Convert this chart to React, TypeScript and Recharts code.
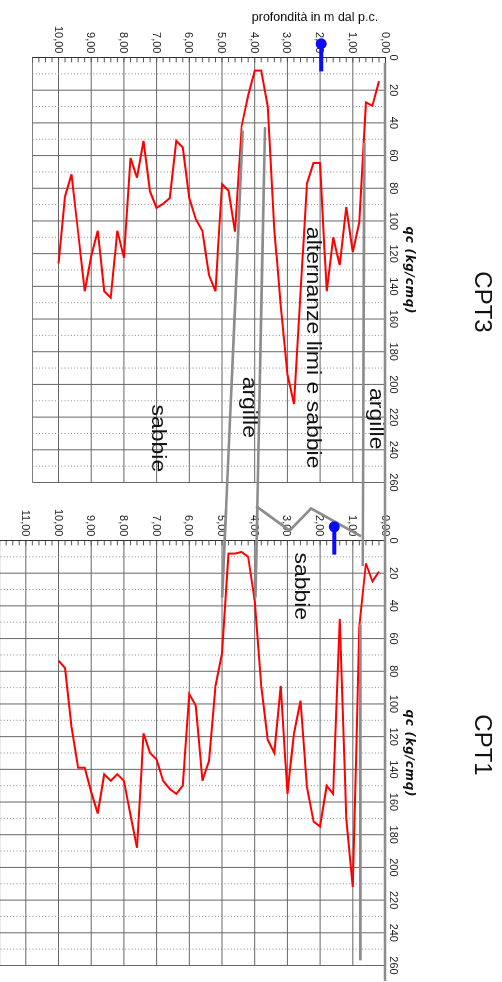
import { ScatterChart, Scatter, XAxis, YAxis, CartesianGrid, ReferenceLine } from 'recharts';

const FONT = '"Liberation Sans", Arial, sans-serif';

// sampling depths (m dal p.c.), both soundings
const DEPTHS = [
  0.2, 0.4, 0.6, 0.8, 1.0, 1.2, 1.4, 1.6, 1.8, 2.0,
  2.2, 2.4, 2.6, 2.8, 3.0, 3.2, 3.4, 3.6, 3.8, 4.0,
  4.2, 4.4, 4.6, 4.8, 5.0, 5.2, 5.4, 5.6, 5.8, 6.0,
  6.2, 6.4, 6.6, 6.8, 7.0, 7.2, 7.4, 7.6, 7.8, 8.0,
  8.2, 8.4, 8.6, 8.8, 9.0, 9.2, 9.4, 9.6, 9.8, 10.0,
];

// qc (kg/cmq)
const CPT3_QC = [
  14.5, 29.5, 27.5, 101, 119, 91.5, 127, 110, 143, 64.5,
  64.5, 77, 144, 212, 194, 152, 105, 30, 8, 8,
  23, 42, 106.5, 81.5, 77.5, 143, 133, 106, 99, 86,
  55, 51, 86, 89.5, 92, 82, 51, 73.5, 61.5, 122.5,
  106, 147, 143, 106, 121.5, 143, 107, 71.5, 85, 126,
];

const CPT1_QC = [
  19, 25, 14, 53, 212, 170, 48, 155, 150, 175,
  172, 151, 98, 118, 155, 89, 130, 122, 89, 37,
  10, 7, 8, 8, 69, 89, 135, 147, 101, 94,
  150, 155, 152, 147, 134, 130, 118, 188, 168, 147,
  143, 147, 143, 167, 154, 139, 139, 114, 78, 73.5,
];

const QC_TICKS = [0, 20, 40, 60, 80, 100, 120, 140, 160, 180, 200, 220, 240, 260];
const QC_HALF = [10, 30, 50, 70, 90, 110, 130, 150, 170, 190, 210, 230, 250];
const CPT3_DEPTH_TICKS = [0, 1, 2, 3, 4, 5, 6, 7, 8, 9, 10];
const CPT1_DEPTH_TICKS = [0, 1, 2, 3, 4, 5, 6, 7, 8, 9, 10, 11];

const CPT3_LAYERS = [
  { name: 'argille', qc: 221, depth: 0.46 },
  { name: 'alternanze limi e sabbie', qc: 177.5, depth: 2.4 },
  { name: 'argille', qc: 214, depth: 4.35 },
  { name: 'sabbie', qc: 233, depth: 7.15 },
];
const CPT1_LAYERS = [{ name: 'sabbie', qc: 28, depth: 2.77 }];

// correlation lines, x = qc on CPT3, CPT1_SHIFT + qc on CPT1
const CPT1_SHIFT = 295.2;
const LINE_PC = [{ x: 3.5, depth: 0 }, { x: CPT1_SHIFT + 270, depth: 0 }];
const LINE_A = [{ x: 52.5, depth: 0.63 }, { x: CPT1_SHIFT + 16.3, depth: 0.68 }];
const LINE_B = [{ x: CPT1_SHIFT + 52, depth: 0.75 }, { x: CPT1_SHIFT + 257.4, depth: 0.75 }];
const LINE_C = [{ x: 42.9, depth: 3.67 }, { x: CPT1_SHIFT + 35.5, depth: 3.96 }];
const LINE_ZIG = [
  { x: 274.8, depth: 3.94 },
  { x: 289.7, depth: 2.92 },
  { x: 276.2, depth: 2.26 },
  { x: 293.2, depth: 0.73 },
];
const LINE_D = [{ x: 45, depth: 4.35 }, { x: CPT1_SHIFT + 35.5, depth: 4.98 }];
const CORRELATIONS = [LINE_PC, LINE_A, LINE_B, LINE_C, LINE_ZIG, LINE_D];

// livello di falda
const FALDA = [
  [{ x: -8.1, depth: 1.95, head: true }, { x: 8.8, depth: 1.95 }],
  [{ x: CPT1_SHIFT - 7.8, depth: 1.55, head: true }, { x: CPT1_SHIFT + 9.2, depth: 1.55 }],
];

// layout (unrotated sheet 982 x 502)
const TOP = 116.5;
const AXIS_W = 57.5;
const PLOT_W = 425;
const RIGHT_PAD = 14;
const PX_Q = PLOT_W / 260;
const PX_M = 32.7;
const LEFT3 = 57.5;
const LEFT1 = 540;

const noDot = () => <g />;

const layerLabel = (p: any) => (
  <g transform={`translate(${p.cx},${p.cy}) scale(1.18,1)`}>
    <text x={0} y={0} textAnchor="middle" fontFamily={FONT} fontSize={19.5} fill="#111">
      {p.payload.name}
    </text>
  </g>
);

const faldaDot = (p: any) =>
  p.payload.head ? <circle cx={p.cx} cy={p.cy} r={5.5} fill="#0a0aff" /> : <g />;

const fmtDepth = (v: number) => v.toFixed(2).replace('.', ',');

function CptPanel({ values, depthMax, depthTicks, layers, left }: any) {
  const data = DEPTHS.map((depth, i) => ({ depth, qc: values[i] }));
  const minor: number[] = [];
  for (let k = 1; k * 0.2 <= depthMax + 0.001; k++) minor.push(+(k * 0.2).toFixed(1));
  const tickStyle = { fontSize: 11, fill: '#222', fontFamily: FONT };

  return (
    <div style={{ position: 'absolute', left: left - AXIS_W, top: 0 }}>
      <ScatterChart
        width={AXIS_W + PLOT_W + RIGHT_PAD}
        height={TOP + depthMax * PX_M}
        margin={{ top: 0, right: RIGHT_PAD, bottom: 0, left: 0 }}
      >
        <CartesianGrid stroke="#666" />
        {QC_HALF.map((q) => (
          <ReferenceLine key={q} x={q} stroke="#888" strokeDasharray="1 2.2" />
        ))}
        {minor.map((d) => (
          <ReferenceLine key={d} segment={[{ x: 0, y: d }, { x: 3, y: d }]} stroke="#555" />
        ))}
        <XAxis
          type="number"
          dataKey="qc"
          orientation="top"
          domain={[0, 260]}
          ticks={QC_TICKS}
          interval={0}
          height={TOP}
          tickSize={0}
          tickMargin={4}
          axisLine={{ stroke: '#333' }}
          tick={tickStyle}
          allowDataOverflow
        />
        <YAxis
          type="number"
          dataKey="depth"
          domain={[0, depthMax]}
          reversed
          ticks={depthTicks}
          interval={0}
          width={AXIS_W}
          tickSize={0}
          tickMargin={4}
          axisLine={{ stroke: '#333' }}
          tick={tickStyle}
          tickFormatter={fmtDepth}
          allowDataOverflow
        />
        <Scatter
          data={data}
          line={{ stroke: '#ff0000', strokeWidth: 2 }}
          shape={noDot}
          isAnimationActive={false}
        />
        <Scatter data={layers} shape={layerLabel} isAnimationActive={false} />
      </ScatterChart>
    </div>
  );
}

export default function App() {
  const pad = 5;
  return (
    <div
      style={{
        position: 'fixed',
        left: 0,
        top: 0,
        width: 982,
        height: 502,
        background: '#fff',
        overflow: 'hidden',
        transformOrigin: '0 0',
        transform: 'translate(502px, 0) rotate(90deg)',
      }}
    >
      <svg width={982} height={502} style={{ position: 'absolute', left: 0, top: 0 }}>
        <text
          x={21}
          y={187}
          transform="rotate(-90 21 187)"
          textAnchor="middle"
          fontFamily={FONT}
          fontSize={12.5}
          fill="#111"
        >
          profondità in m dal p.c.
        </text>
        <text x={302} y={27} textAnchor="middle" fontFamily={FONT} fontSize={24} fill="#111">
          CPT3
        </text>
        <text x={745} y={27} textAnchor="middle" fontFamily={FONT} fontSize={24} fill="#111">
          CPT1
        </text>
        {[270, 753].map((cx) => (
          <text
            key={cx}
            x={cx - 43.5}
            y={95.5}
            textLength={87}
            lengthAdjust="spacing"
            fontFamily='"DejaVu Sans", sans-serif'
            fontStyle="italic"
            fontWeight="bold"
            fontSize={12}
            fill="#111"
          >
            qc (kg/cmq)
          </text>
        ))}
      </svg>

      <CptPanel
        values={CPT3_QC}
        depthMax={10.8}
        depthTicks={CPT3_DEPTH_TICKS}
        layers={CPT3_LAYERS}
        left={LEFT3}
      />
      <CptPanel
        values={CPT1_QC}
        depthMax={11.8}
        depthTicks={CPT1_DEPTH_TICKS}
        layers={CPT1_LAYERS}
        left={LEFT1}
      />

      <div style={{ position: 'absolute', left: LEFT3 - 30 * PX_Q - pad, top: TOP - pad }}>
        <ScatterChart
          width={600 * PX_Q + 2 * pad}
          height={11.8 * PX_M + 2 * pad}
          margin={{ top: pad, right: pad, bottom: pad, left: pad }}
        >
          <XAxis type="number" dataKey="x" domain={[-30, 570]} hide />
          <YAxis type="number" dataKey="depth" domain={[0, 11.8]} reversed hide />
          {CORRELATIONS.map((pts, i) => (
            <Scatter
              key={i}
              data={pts}
              line={{ stroke: '#8c8c8c', strokeWidth: 2.7 }}
              shape={noDot}
              isAnimationActive={false}
            />
          ))}
          {FALDA.map((pts, i) => (
            <Scatter
              key={'f' + i}
              data={pts}
              line={{ stroke: '#0a0aff', strokeWidth: 4 }}
              shape={faldaDot}
              isAnimationActive={false}
            />
          ))}
        </ScatterChart>
      </div>
    </div>
  );
}
